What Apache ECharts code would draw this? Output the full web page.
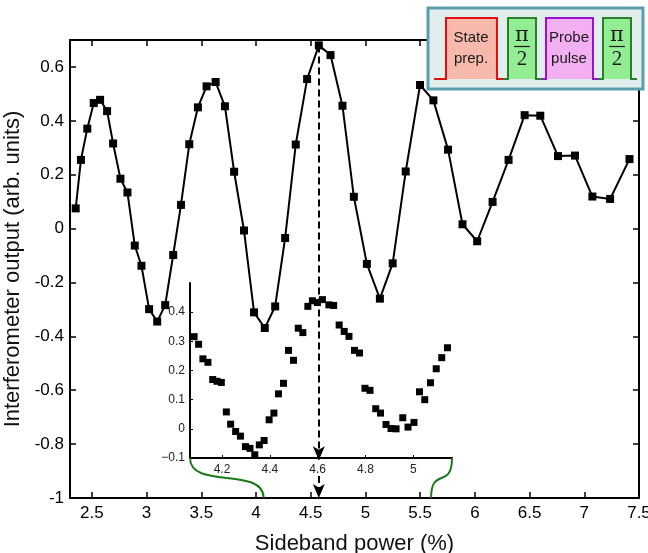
<!DOCTYPE html>
<html>
<head>
<meta charset="utf-8">
<script src="https://cdn.jsdelivr.net/npm/echarts@6/dist/echarts.min.js"></script>
<style>html,body{margin:0;padding:0;background:#fff}#c{width:648px;height:553px}</style>
</head>
<body>
<div id="c"></div>
<script>
// ---- data ----
var mainX = [2.352,2.40,2.458,2.517,2.575,2.639,2.694,2.761,2.825,2.892,2.953,3.023,3.097,3.17,3.243,3.314,3.39,3.469,3.548,3.631,3.716,3.80,3.89,3.982,4.08,4.175,4.266,4.363,4.467,4.574,4.681,4.79,4.894,5.013,5.132,5.249,5.368,5.499,5.621,5.755,5.887,6.021,6.162,6.308,6.455,6.598,6.76,6.915,7.074,7.236,7.413];
var mainY = [0.075,0.255,0.371,0.466,0.478,0.436,0.316,0.185,0.134,-0.063,-0.138,-0.299,-0.345,-0.284,-0.098,0.088,0.313,0.450,0.528,0.544,0.454,0.211,-0.007,-0.311,-0.369,-0.289,-0.035,0.312,0.555,0.680,0.644,0.456,0.118,-0.131,-0.260,-0.129,0.212,0.533,0.476,0.293,0.016,-0.047,0.099,0.255,0.421,0.419,0.269,0.271,0.119,0.110,0.258];
var insetX = [4.083,4.102,4.120,4.141,4.161,4.179,4.197,4.218,4.236,4.257,4.277,4.298,4.317,4.337,4.356,4.376,4.397,4.417,4.436,4.457,4.478,4.499,4.519,4.538,4.559,4.578,4.599,4.620,4.647,4.667,4.690,4.711,4.731,4.754,4.775,4.798,4.819,4.843,4.863,4.886,4.907,4.928,4.956,4.978,5.003,5.026,5.048,5.072,5.096,5.119,5.143];
var insetY = [0.316,0.290,0.240,0.228,0.169,0.163,0.159,0.058,0.016,-0.009,-0.025,-0.061,-0.067,-0.089,-0.055,-0.040,0.031,0.054,0.120,0.156,0.269,0.235,0.345,0.330,0.420,0.439,0.433,0.443,0.425,0.423,0.356,0.334,0.317,0.269,0.260,0.139,0.132,0.069,0.054,0.015,0.001,0.000,0.038,0.006,0.022,0.127,0.100,0.158,0.206,0.244,0.278];
var mainXTicks = [2.5,3,3.5,4,4.5,5,5.5,6,6.5,7,7.5];
var mainYTicks = [-1,-0.8,-0.6,-0.4,-0.2,0,0.2,0.4,0.6];
var insetXTicks = [4.2,4.4,4.6,4.8,5];
var insetYTicks = [-0.1,0,0.1,0.2,0.3,0.4];
var mainXRange = [2.3, 7.5], mainYRange = [-1, 0.7];
var insetXRange = [4.066, 5.162], insetYRange = [-0.1, 0.5];
// annotations (data coordinates)
var peakX = 4.574, peakY = 0.68, upperArrowEndY = -0.86, lowerArrowStartY = -0.918;
var zoomLeftX = 4.07, zoomRightX = 5.6;
var xTitle = 'Sideband power (%)';
var yTitle = 'Interferometer output (arb. units)';
var pulseLabels = [['State', 'prep.'], ['Probe', 'pulse']];

function pairs(xs, ys){ return xs.map(function(x,i){ return [x, ys[i]]; }); }
var FONT = 'Liberation Sans, Arial, sans-serif';

var chart = echarts.init(document.getElementById('c'), null, {renderer:'canvas'});

function axLine(){ return {show:true, onZero:false, lineStyle:{color:'#000', width:2}}; }
function axTick(vals){ return {show:true, inside:true, length:6, customValues:vals, lineStyle:{color:'#000', width:1.5}}; }

var option = {
  animation:false,
  backgroundColor:'#fff',
  grid:[
    {left:70, top:40, width:569, height:458, show:false, containLabel:false, outerBoundsMode:'none'},
    {left:190, top:283, width:262, height:175, show:false, containLabel:false, outerBoundsMode:'none'}
  ],
  xAxis:[
    {gridIndex:0, type:'value', min:mainXRange[0], max:mainXRange[1], position:'bottom',
     axisLine:axLine(), splitLine:{show:false}, axisTick:axTick(mainXTicks),
     axisLabel:{customValues:mainXTicks, color:'#000', fontFamily:FONT, fontSize:17, margin:7},
     name:xTitle, nameLocation:'middle', nameGap:35,
     nameTextStyle:{color:'#111', fontFamily:FONT, fontSize:22}},
    {gridIndex:0, type:'value', min:mainXRange[0], max:mainXRange[1], position:'top',
     axisLine:axLine(), splitLine:{show:false}, axisTick:axTick(mainXTicks),
     axisLabel:{show:false}},
    {gridIndex:1, type:'value', min:insetXRange[0], max:insetXRange[1], position:'bottom',
     axisLine:{show:true, onZero:false, lineStyle:{color:'#000', width:2}}, splitLine:{show:false},
     axisTick:{show:true, inside:true, length:3, customValues:insetXTicks, lineStyle:{color:'#000'}},
     axisLabel:{customValues:insetXTicks, color:'#222', fontFamily:FONT, fontSize:12, margin:6}}
  ],
  yAxis:[
    {gridIndex:0, type:'value', min:mainYRange[0], max:mainYRange[1], position:'left',
     axisLine:axLine(), splitLine:{show:false}, axisTick:axTick(mainYTicks),
     axisLabel:{customValues:mainYTicks, color:'#000', fontFamily:FONT, fontSize:17, margin:6,
       formatter:function(v){ return String(Math.round(v*10)/10); }},
     name:yTitle, nameLocation:'middle', nameGap:42,
     nameTextStyle:{color:'#111', fontFamily:FONT, fontSize:22}},
    {gridIndex:0, type:'value', min:mainYRange[0], max:mainYRange[1], position:'right',
     axisLine:axLine(), splitLine:{show:false}, axisTick:axTick(mainYTicks),
     axisLabel:{show:false}},
    {gridIndex:1, type:'value', min:insetYRange[0], max:insetYRange[1], position:'left',
     axisLine:{show:true, onZero:false, lineStyle:{color:'#000', width:2}}, splitLine:{show:false},
     axisTick:{show:true, inside:true, length:3, customValues:insetYTicks, lineStyle:{color:'#000'}},
     axisLabel:{customValues:insetYTicks, color:'#222', fontFamily:FONT, fontSize:12, margin:5,
       formatter:function(v){ var s = String(Math.round(v*10)/10); return s.replace('-', '\u2212'); }}}
  ],
  series:[
    {type:'line', xAxisIndex:2, yAxisIndex:2, data:pairs(insetX, insetY),
     symbol:'rect', symbolSize:7, itemStyle:{color:'#000'}, lineStyle:{width:0}, showSymbol:true, z:3},
    {type:'line', xAxisIndex:0, yAxisIndex:0, data:pairs(mainX, mainY),
     symbol:'rect', symbolSize:8, itemStyle:{color:'#000'}, lineStyle:{color:'#000', width:2}, z:4,
     markLine:{silent:true, symbol:['none','arrow'], symbolSize:[9,14],
       label:{show:false},
       lineStyle:{color:'#000', width:2, type:[7,4]},
       data:[
         [{coord:[peakX, peakY]},{coord:[peakX, upperArrowEndY]}],
         [{coord:[peakX, lowerArrowStartY]},{coord:[peakX, mainYRange[0]]}]
       ]}}
  ]
};
chart.setOption(option);

function px(x, y){ return chart.convertToPixel({xAxisIndex:0, yAxisIndex:0}, [x, y]); }
function ipx(x, y){ return chart.convertToPixel({xAxisIndex:2, yAxisIndex:2}, [x, y]); }

var g = [];
// zoom connectors
function conn(p0, p3){
  var dy = p3[1]-p0[1];
  return {type:'bezierCurve', shape:{x1:p0[0], y1:p0[1], x2:p3[0], y2:p3[1],
    cpx1:p0[0], cpy1:p0[1]+0.8*dy, cpx2:p3[0], cpy2:p0[1]+0.2*dy},
    style:{stroke:'#1a7a1a', lineWidth:2, fill:null}, z:10};
}
g.push(conn(ipx(insetXRange[0], insetYRange[0]), px(zoomLeftX, mainYRange[0])));
g.push(conn(ipx(insetXRange[1], insetYRange[0]), px(zoomRightX, mainYRange[0])));

// pulse-sequence diagram
var boxX = 428, boxY = 8, boxW = 215, boxH = 81, pBase = 79, pTop = 18;
g.push({type:'rect', shape:{x:boxX, y:boxY, width:boxW, height:boxH},
  style:{fill:'#e2eeee', stroke:'#5a9eab', lineWidth:3}, z:20});
var pulses = [
  {a:434, l:446, r:497, b:503, stroke:'#e01010', fill:'#f7b9ab'},
  {a:503, l:508, r:536, b:542, stroke:'#2a7f2a', fill:'#93ee93'},
  {a:542, l:546, r:593, b:598, stroke:'#9a10d0', fill:'#f2aff2'},
  {a:598, l:603, r:631, b:637, stroke:'#2a7f2a', fill:'#93ee93'}
];
pulses.forEach(function(p){
  g.push({type:'rect', shape:{x:p.l, y:pTop, width:p.r-p.l, height:pBase-pTop}, style:{fill:p.fill}, z:21});
  g.push({type:'polyline', shape:{points:[[p.a,pBase],[p.l,pBase],[p.l,pTop],[p.r,pTop],[p.r,pBase],[p.b,pBase]]},
    style:{stroke:p.stroke, lineWidth:2, fill:null}, z:22});
});
function txt(t, x, y, size, fam, style){
  g.push({type:'text', x:x, y:y, style:{text:t, fill:'#1a1a1a', font:(style||'')+' '+size+'px '+fam, align:'center', verticalAlign:'middle'}, z:23});
}
txt(pulseLabels[0][0], 471, 38, 15, FONT); txt(pulseLabels[0][1], 471, 59, 15, FONT);
txt(pulseLabels[1][0], 569, 38, 15, FONT); txt(pulseLabels[1][1], 569, 59, 15, FONT);
[522, 617].forEach(function(cx){
  txt('\u03c0', cx, 36, 21, '"DejaVu Serif", serif');
  g.push({type:'line', shape:{x1:cx-8, y1:46.5, x2:cx+8, y2:46.5}, style:{stroke:'#1a1a1a', lineWidth:1.2}, z:23});
  txt('2', cx, 59, 21, '"Liberation Serif", serif');
});
chart.setOption({graphic:g});
</script>
</body>
</html>
